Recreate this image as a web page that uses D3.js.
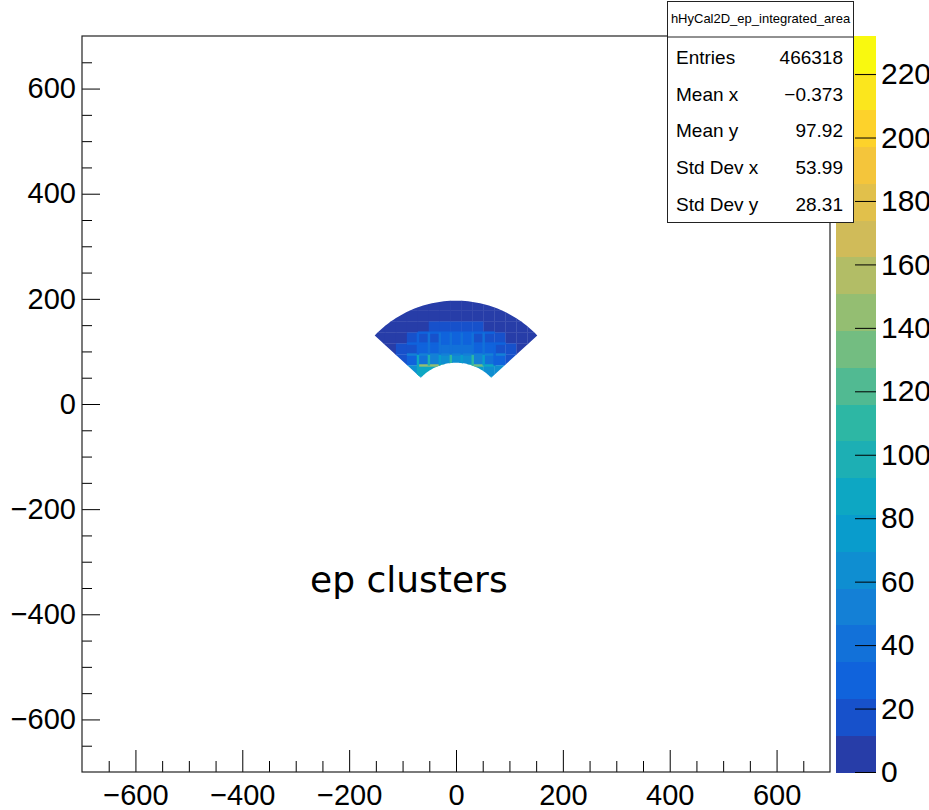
<!DOCTYPE html>
<html>
<head>
<meta charset="utf-8">
<script src="https://cdn.jsdelivr.net/npm/d3@7/dist/d3.min.js"></script>
<style>
  body { margin: 0; background: #fff; }
  svg text { font-family: "Liberation Sans", Arial, Helvetica, sans-serif; fill: #000; }
</style>
</head>
<body>
<script>
// axis ticks
const xMajor = [-600, -400, -200, 0, 200, 400, 600];
const xMinor = [-650, -550, -500, -450, -350, -300, -250, -150, -100, -50, 50, 100, 150, 250, 300, 350, 450, 500, 550, 650];
const yMajor = [-600, -400, -200, 0, 200, 400, 600];
const yMinor = [-650, -550, -500, -450, -350, -300, -250, -150, -100, -50, 50, 100, 150, 250, 300, 350, 450, 500, 550, 650];
const zTicks = [0, 20, 40, 60, 80, 100, 120, 140, 160, 180, 200, 220];

// crystal sized bins, rows from top (y 177.7-198.5) to bottom (y 32-52.8)
const binEdgesX = [-174, -153.5, -133, -112.5, -92, -71.5, -51, -30.5, -10, 10.5, 31, 51.5, 72, 92.5, 113, 133.5, 154, 174.5];
const binEdgesY = [198.5, 177.7, 156.9, 136, 115.2, 94.4, 73.6, 52.8, 32];
const counts = [
  [0, 0, 0, 0, 6, 6, 7, 7, 8, 8, 7, 7, 6, 6, 0, 0, 0],
  [0, 0, 6, 6, 7, 8, 9, 10, 11, 10, 9, 8, 7, 6, 6, 0, 0],
  [0, 6, 7, 8, 9, 11, 13, 15, 16, 15, 13, 11, 9, 8, 7, 6, 0],
  [6, 7, 8, 10, 13, 17, 22, 25, 26, 25, 22, 17, 13, 10, 8, 7, 6],
  [0, 8, 9, 12, 17, 24, 31, 36, 38, 36, 31, 24, 17, 12, 9, 8, 0],
  [0, 0, 10, 15, 30, 45, 55, 60, 62, 60, 55, 42, 28, 15, 10, 0, 0],
  [0, 0, 0, 0, 65, 85, 90, 0, 0, 0, 80, 65, 60, 0, 0, 0, 0],
  [0, 0, 0, 0, 0, 75, 0, 0, 0, 0, 0, 70, 0, 0, 0, 0, 0]
];

// narrow bins along crystal boundaries: [x0, x1, y0, y1, count]
const edgeBins = [
  [-71.5, 72, 134, 138, 26],
  [-92, 92.5, 113.2, 117.2, 34],
  [-92, 92.5, 92.4, 96.4, 48],
  [-71.5, -30.5, 71.6, 75.6, 140],
  [-30.5, -10, 71.6, 75.6, 115],
  [-10, 10.5, 71.6, 75.6, 155],
  [10.5, 31, 71.6, 75.6, 115],
  [31, 51.5, 71.6, 75.6, 135],
  [51.5, 72, 71.6, 75.6, 90],
  [-73.5, -69.5, 52.8, 94.4, 85],
  [-73.5, -69.5, 94.4, 136, 30],
  [-53, -49, 73.6, 94.4, 100],
  [-53, -49, 94.4, 136, 40],
  [-32.5, -28.5, 73.6, 94.4, 80],
  [-32.5, -28.5, 94.4, 136, 40],
  [-12, -8, 73.6, 94.4, 110],
  [-12, -8, 94.4, 136, 45],
  [8.5, 12.5, 73.6, 94.4, 80],
  [8.5, 12.5, 94.4, 136, 40],
  [29, 33, 73.6, 94.4, 105],
  [29, 33, 94.4, 136, 40],
  [49.5, 53.5, 73.6, 94.4, 75],
  [49.5, 53.5, 94.4, 136, 35],
  [70, 74, 73.6, 115.2, 30]
];

// acceptance region of the clusters
const sectorCenter = [0, -11.5];
const sectorRadii = [90, 208];
const sectorAngles = [43, 137];

const zMax = 232;
const nContours = 20;

const statsTitle = 'hHyCal2D_ep_integrated_area';
const statsLabels = ['Entries', 'Mean x', 'Mean y', 'Std Dev x', 'Std Dev y'];
const statsValues = ['466318', '\u22120.373', '97.92', '53.99', '28.31'];

// ROOT kBird palette
const birdStops = [0, 0.125, 0.25, 0.375, 0.5, 0.625, 0.75, 0.875, 1];
const birdRed = [0.2082, 0.0592, 0.0780, 0.0232, 0.1802, 0.5301, 0.8186, 0.9956, 0.9764];
const birdGreen = [0.1664, 0.3599, 0.5041, 0.6419, 0.7178, 0.7492, 0.7328, 0.7862, 0.9832];
const birdBlue = [0.5293, 0.8684, 0.8385, 0.7914, 0.6425, 0.4662, 0.3499, 0.1968, 0.0539];

const W = 929, H = 810;
const frame = {left: 82, right: 830, top: 36, bottom: 772};
const bar = {left: 835.5, right: 876};

const birdScale = d3.scaleLinear()
    .domain(birdStops)
    .range(birdStops.map((s, i) => d3.rgb(birdRed[i] * 255, birdGreen[i] * 255, birdBlue[i] * 255)))
    .interpolate(d3.interpolateRgb);

const bandColor = band => birdScale(Math.floor((band + 0.99) * 255 / nContours) / 255);
const valueColor = v => bandColor(Math.min(nContours - 1, Math.floor(0.01 + v * nContours / zMax)));

const svg = d3.select('body')
    .append('svg')
    .attr('width', W)
    .attr('height', H);

const scaleX = d3.scaleLinear().domain([-700, 700]).range([frame.left, frame.right]);
const scaleY = d3.scaleLinear().domain([-700, 700]).range([frame.bottom, frame.top]);
const scaleZ = d3.scaleLinear().domain([0, zMax]).range([frame.bottom, frame.top]);

// clip outline of the sector
const rad = d => d * Math.PI / 180;
const arcPts = (r, a0, a1) => d3.range(0, 61).map(i => {
    const a = rad(a0 + (a1 - a0) * i / 60);
    return [scaleX(sectorCenter[0] + r * Math.cos(a)), scaleY(sectorCenter[1] + r * Math.sin(a))];
});
const outline = arcPts(sectorRadii[1], sectorAngles[0], sectorAngles[1])
    .concat(arcPts(sectorRadii[0], sectorAngles[1], sectorAngles[0]));

svg.append('defs').append('clipPath')
    .attr('id', 'sector')
    .append('path')
    .attr('d', d3.line()(outline) + 'Z');

const cells = [];
counts.forEach((row, r) => row.forEach((v, c) => {
    if (v > 0) cells.push({x0: binEdgesX[c], x1: binEdgesX[c + 1], y0: binEdgesY[r + 1], y1: binEdgesY[r], v: v});
}));
edgeBins.forEach(e => cells.push({x0: e[0], x1: e[1], y0: e[2], y1: e[3], v: e[4]}));

svg.append('g')
    .attr('clip-path', 'url(#sector)')
    .selectAll('rect')
    .data(cells)
    .enter()
    .append('rect')
    .attr('x', d => scaleX(d.x0))
    .attr('y', d => scaleY(d.y1))
    .attr('width', d => scaleX(d.x1) - scaleX(d.x0) + 0.3)
    .attr('height', d => scaleY(d.y0) - scaleY(d.y1) + 0.3)
    .attr('fill', d => valueColor(d.v));

// axes
const gX = svg.append('g').attr('transform', 'translate(0,' + frame.bottom + ')');
gX.call(d3.axisBottom(scaleX).tickValues(xMajor).tickSizeInner(-22).tickSizeOuter(0).tickPadding(12));
gX.append('g').call(d3.axisBottom(scaleX).tickValues(xMinor).tickSizeInner(-11).tickSizeOuter(0).tickFormat(''));

const gY = svg.append('g').attr('transform', 'translate(' + frame.left + ',0)');
gY.call(d3.axisLeft(scaleY).tickValues(yMajor).tickSizeInner(-18).tickSizeOuter(0).tickPadding(6));
gY.append('g').call(d3.axisLeft(scaleY).tickValues(yMinor).tickSizeInner(-10).tickSizeOuter(0).tickFormat(''));

svg.selectAll('.domain').remove();
svg.selectAll('.tick line').attr('stroke', '#000');
svg.selectAll('.tick text').attr('font-size', 29).attr('font-family', '"Liberation Sans", Arial, sans-serif');

svg.append('rect')
    .attr('x', frame.left)
    .attr('y', frame.top)
    .attr('width', frame.right - frame.left)
    .attr('height', frame.bottom - frame.top)
    .attr('fill', 'none')
    .attr('stroke', '#222')
    .attr('stroke-width', 1.2);

// palette
const bandEdges = d3.range(0, nContours + 1).map(i => i * zMax / nContours);
svg.append('g')
    .selectAll('rect')
    .data(d3.range(0, nContours))
    .enter()
    .append('rect')
    .attr('x', bar.left)
    .attr('width', bar.right - bar.left)
    .attr('y', i => scaleZ(bandEdges[i + 1]))
    .attr('height', i => scaleZ(bandEdges[i]) - scaleZ(bandEdges[i + 1]) + 0.5)
    .attr('fill', i => bandColor(i))
    .attr('shape-rendering', 'crispEdges');

const gZ = svg.append('g').attr('transform', 'translate(' + bar.right + ',0)');
gZ.call(d3.axisRight(scaleZ).tickValues(zTicks).tickSizeInner(-21).tickSizeOuter(0).tickPadding(5).tickFormat(d3.format('d')));
gZ.select('.domain').remove();
gZ.selectAll('.tick line').attr('stroke', '#000');
gZ.selectAll('.tick text').attr('font-size', 30).attr('font-family', '"Liberation Sans", Arial, sans-serif');

// stats box
const stats = svg.append('g');
stats.append('rect')
    .attr('x', 667.5).attr('y', 1.5).attr('width', 186).attr('height', 221)
    .attr('fill', '#fff').attr('stroke', '#222');
stats.append('line')
    .attr('x1', 667.5).attr('x2', 853.5).attr('y1', 37).attr('y2', 37)
    .attr('stroke', '#222');
stats.append('text')
    .attr('x', 760.5).attr('y', 23)
    .attr('text-anchor', 'middle')
    .attr('font-size', 13)
    .text(statsTitle);
statsLabels.forEach((lab, i) => {
    stats.append('text')
        .attr('x', 676).attr('y', 64 + i * 36.7)
        .attr('font-size', 19)
        .text(lab);
    stats.append('text')
        .attr('x', 843).attr('y', 64 + i * 36.7)
        .attr('text-anchor', 'end')
        .attr('font-size', 19)
        .text(statsValues[i]);
});

svg.append('text')
    .attr('x', 310)
    .attr('y', 592)
    .style('font-family', '"DejaVu Sans", sans-serif')
    .attr('font-size', 36)
    .text('ep clusters');
</script>
</body>
</html>
